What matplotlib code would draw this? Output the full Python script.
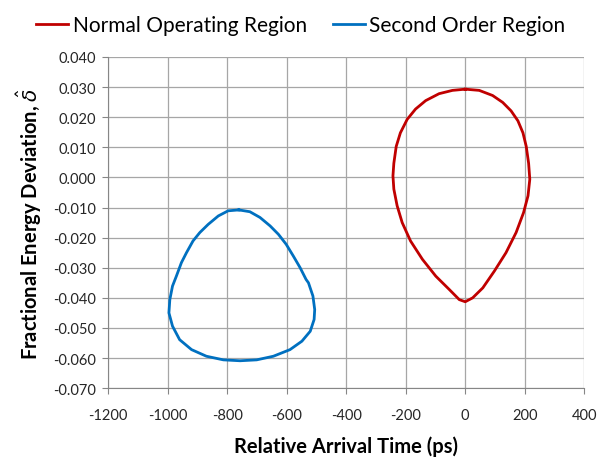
import matplotlib.pyplot as plt
import numpy as np

plt.rcParams['font.family'] = ['Lato', 'DejaVu Sans']
plt.rcParams['mathtext.fontset'] = 'dejavusans'
plt.rcParams['axes.unicode_minus'] = False

# 正常工作区（红色）轮廓点，顺时针，从顶部开始
normal_t = [0, 47, 92, 126, 154, 177, 194, 205, 213, 217, 211, 196, 171, 137, 98, 59, 25, 0,
            -20, -54, -99, -144, -184, -212, -229, -240, -243, -240, -232, -218, -195, -167,
            -133, -88, -43, 0]
normal_d = [0.0293, 0.0289, 0.0272, 0.0249, 0.0221, 0.0188, 0.0148, 0.0103, 0.0047, -0.0006,
            -0.0061, -0.0117, -0.0183, -0.0250, -0.0311, -0.0367, -0.0400, -0.0413,
            -0.0406, -0.0372, -0.0328, -0.0272, -0.0211, -0.0150, -0.0094, -0.0039, 0.0005,
            0.0047, 0.0103, 0.0148, 0.0193, 0.0227, 0.0255, 0.0278, 0.0289, 0.0293]

# 二阶区（蓝色）轮廓点
second_t = [-761, -724, -690, -656, -628, -602, -578, -555, -535, -527, -512, -506, -508, -521,
            -549, -589, -645, -701, -757, -813, -870, -920, -960, -984, -996, -993, -984, -971,
            -954, -937, -915, -892, -864, -830, -797, -761]
second_d = [-0.0108, -0.0114, -0.0133, -0.0161, -0.0189, -0.0222, -0.0261, -0.0300, -0.0339,
            -0.0350, -0.0394, -0.0439, -0.0472, -0.0511, -0.0544, -0.0572, -0.0594, -0.0606,
            -0.0609, -0.0606, -0.0594, -0.0572, -0.0539, -0.0494, -0.0450, -0.0406, -0.0361,
            -0.0328, -0.0283, -0.0250, -0.0211, -0.0183, -0.0156, -0.0128, -0.0111, -0.0108]

fig = plt.figure(figsize=(5.98, 4.60), dpi=100)
ax = fig.add_axes([0.181, 0.154, 0.796, 0.72])

ax.plot(normal_t, normal_d, color='#C00000', lw=2.0, label='Normal Operating Region')
ax.plot(second_t, second_d, color='#0070C0', lw=2.0, label='Second Order Region')

ax.set_xlim(-1200, 400)
ax.set_ylim(-0.070, 0.040)
ax.set_xticks(np.arange(-1200, 401, 200))
yt = np.arange(-0.070, 0.0401, 0.010)
ax.set_yticks(yt)
ax.set_yticklabels([f'{v:.3f}' for v in yt])
ax.grid(True, color='#a6a6a6', lw=0.9)
ax.set_axisbelow(True)
for s in ['top', 'right']:
    ax.spines[s].set_visible(False)
for s in ['left', 'bottom']:
    ax.spines[s].set_color('#868686')
ax.tick_params(direction='out', length=4, color='#868686', labelsize=10.5, labelcolor='#262626')
ax.tick_params(axis='x', pad=10)
ax.tick_params(axis='y', pad=5)

ax.set_xlabel('Relative Arrival Time (ps)', fontsize=14.5, fontweight='bold', labelpad=10)
ax.set_ylabel(r'Fractional Energy Deviation, $\hat{\delta}$', fontsize=14.5, fontweight='bold', labelpad=6)

fig.legend(loc='upper center', bbox_to_anchor=(0.503, 1.005), ncol=2, frameon=False,
           fontsize=15, handlelength=1.55, handletextpad=0.2, columnspacing=1.25)

fig.savefig('out.png', dpi=100)
